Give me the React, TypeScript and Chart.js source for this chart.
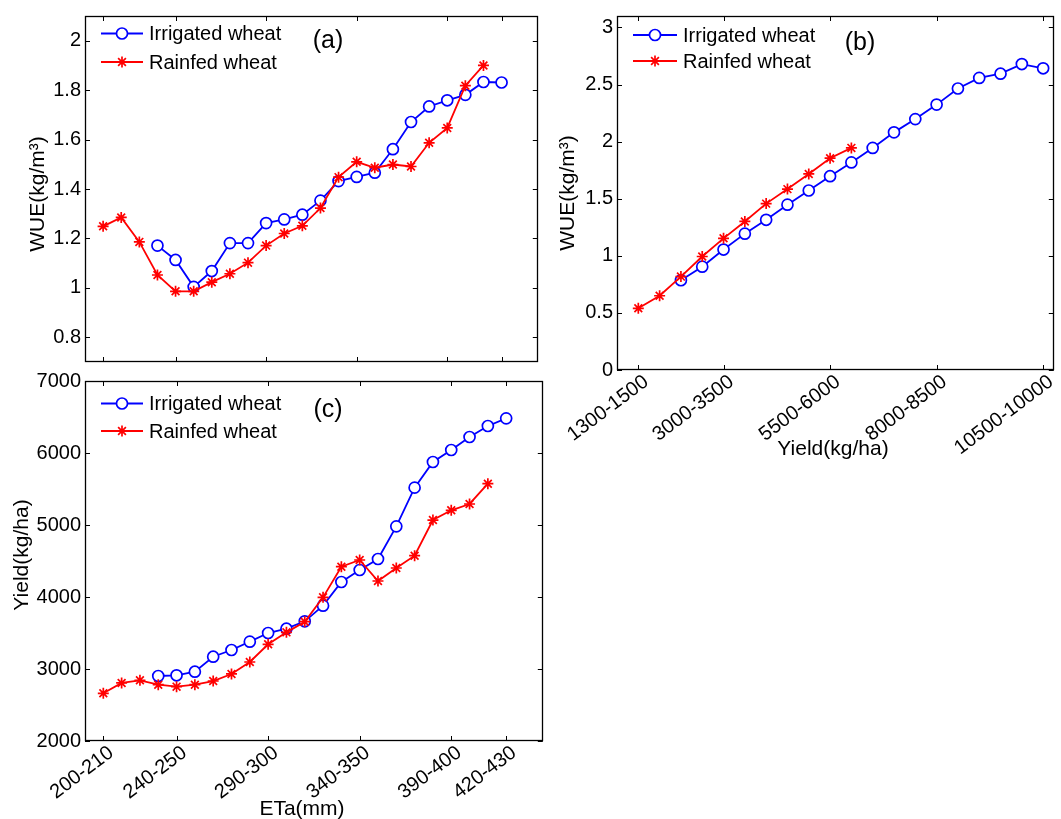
import React, { useEffect, useRef } from "react";
import { Chart, registerables } from "chart.js";
Chart.register(...registerables);

const FONT = '"Liberation Sans", Arial, Helvetica, sans-serif';

// ETa classes (mm)
const etaClasses = ["200-210", "210-220", "220-230", "230-240", "240-250", "250-260", "260-270", "270-280", "280-290", "290-300", "300-310", "310-320", "320-330", "330-340", "340-350", "350-360", "360-370", "370-380", "380-390", "390-400", "400-410", "410-420", "420-430"];
const etaTickIndex = [0, 4, 9, 14, 19, 22];

// Yield classes (kg/ha)
const yieldClasses = ["1300-1500", "1500-2000", "2000-2500", "2500-3000", "3000-3500", "3500-4000", "4000-4500", "4500-5000", "5000-5500", "5500-6000", "6000-6500", "6500-7000", "7000-7500", "7500-8000", "8000-8500", "8500-9000", "9000-9500", "9500-10000", "10000-10500", "10500-10000"];
const yieldTickIndex = [0, 4, 9, 14, 19];

// (a) WUE vs ETa
const irrigatedEtaStart = 3;
const rainfedEtaStart = 0;
const wueEtaIrrigated = [1.171, 1.113, 1.004, 1.068, 1.181, 1.181, 1.262, 1.277, 1.296, 1.353, 1.432, 1.449, 1.466, 1.561, 1.671, 1.734, 1.759, 1.781, 1.833, 1.831];
const wueEtaRainfed = [1.249, 1.285, 1.186, 1.052, 0.986, 0.986, 1.023, 1.057, 1.102, 1.171, 1.22, 1.251, 1.323, 1.448, 1.51, 1.486, 1.499, 1.491, 1.587, 1.647, 1.818, 1.9];

// (b) WUE vs Yield
const irrigatedYieldStart = 2;
const rainfedYieldStart = 0;
const wueYieldIrrigated = [0.786, 0.905, 1.055, 1.194, 1.315, 1.448, 1.572, 1.697, 1.818, 1.945, 2.081, 2.197, 2.324, 2.465, 2.558, 2.595, 2.679, 2.642];
const wueYieldRainfed = [0.54, 0.65, 0.818, 0.994, 1.153, 1.301, 1.457, 1.584, 1.717, 1.855, 1.945];

// (c) Yield vs ETa
const yieldEtaIrrigated = [2903, 2912, 2963, 3171, 3264, 3380, 3500, 3560, 3662, 3880, 4208, 4375, 4528, 4981, 5519, 5875, 6042, 6222, 6375, 6481];
const yieldEtaRainfed = [2662, 2806, 2843, 2782, 2755, 2782, 2833, 2931, 3097, 3343, 3509, 3657, 3995, 4421, 4514, 4222, 4403, 4574, 5069, 5204, 5292, 5574];

const wueTicksA = [0.8, 1, 1.2, 1.4, 1.6, 1.8, 2];
const wueTicksB = [0, 0.5, 1, 1.5, 2, 2.5, 3];
const yieldTicksC = [2000, 3000, 4000, 5000, 6000, 7000];

const BLUE = "#0000ff";
const RED = "#ff0000";

type Series = { label: string; color: string; marker: "circle" | "star"; start: number; values: number[]; order: number };
type Spec = {
  box: { left: number; top: number; width: number; height: number };
  padding: { left: number; top: number; right: number; bottom: number };
  yWidth: number;
  xHeight: number;
  xMin: number;
  xMax: number;
  xTickIndex: number[];
  xLabels: string[];
  showXLabels: boolean;
  yMin: number;
  yMax: number;
  yTicks: number[];
  series: Series[];
  tag: { text: string; x: number; y: number };
  legend: { x0: number; x1: number; textX: number; rows: number[] };
  yTitle: { text: string; x: number; y: number };
  xTitle?: { text: string; x: number; y: number };
};

const MARK_R = 5.5;
const LINE_W = 1.8;

function drawStar(ctx: CanvasRenderingContext2D, x: number, y: number, r: number) {
  const d = r * Math.SQRT1_2;
  ctx.beginPath();
  ctx.moveTo(x - r, y); ctx.lineTo(x + r, y);
  ctx.moveTo(x, y - r); ctx.lineTo(x, y + r);
  ctx.moveTo(x - d, y - d); ctx.lineTo(x + d, y + d);
  ctx.moveTo(x - d, y + d); ctx.lineTo(x + d, y - d);
  ctx.stroke();
}

function framePlugin(spec: Spec) {
  return {
    id: "matlabFrame",
    afterDraw(chart: any) {
      const ctx: CanvasRenderingContext2D = chart.ctx;
      const { left, right, top, bottom } = chart.chartArea;
      const xs = chart.scales.x;
      const ys = chart.scales.y;
      const TL = 5;
      ctx.save();
      ctx.strokeStyle = "#000";
      ctx.lineWidth = 1.3;
      ctx.strokeRect(Math.round(left) + 0.5, Math.round(top) + 0.5, Math.round(right - left) - 1, Math.round(bottom - top) - 1);
      ctx.lineWidth = 1;
      ctx.beginPath();
      spec.xTickIndex.forEach((v) => {
        const px = Math.round(xs.getPixelForValue(v)) + 0.5;
        ctx.moveTo(px, bottom); ctx.lineTo(px, bottom - TL);
        ctx.moveTo(px, top); ctx.lineTo(px, top + TL);
      });
      spec.yTicks.forEach((v) => {
        const py = Math.round(ys.getPixelForValue(v)) + 0.5;
        ctx.moveTo(left, py); ctx.lineTo(left + TL, py);
        ctx.moveTo(right, py); ctx.lineTo(right - TL, py);
      });
      ctx.stroke();

      // legend
      ctx.font = `20px ${FONT}`;
      ctx.textBaseline = "middle";
      ctx.textAlign = "left";
      spec.series.forEach((s, i) => {
        const y = spec.legend.rows[i];
        ctx.strokeStyle = s.color;
        ctx.lineWidth = LINE_W;
        ctx.beginPath();
        ctx.moveTo(spec.legend.x0, y);
        ctx.lineTo(spec.legend.x1, y);
        ctx.stroke();
        const mx = (spec.legend.x0 + spec.legend.x1) / 2;
        ctx.lineWidth = 1.7;
        if (s.marker === "circle") {
          ctx.fillStyle = "#fff";
          ctx.beginPath();
          ctx.arc(mx, y, MARK_R, 0, Math.PI * 2);
          ctx.fill();
          ctx.stroke();
        } else {
          drawStar(ctx, mx, y, MARK_R);
        }
        ctx.fillStyle = "#000";
        ctx.fillText(s.label, spec.legend.textX, y + 1);
      });

      // panel tag
      ctx.font = `25px ${FONT}`;
      ctx.textAlign = "center";
      ctx.fillStyle = "#000";
      ctx.fillText(spec.tag.text, spec.tag.x, spec.tag.y);

      // axis titles
      ctx.font = `21px ${FONT}`;
      ctx.save();
      ctx.translate(spec.yTitle.x, spec.yTitle.y);
      ctx.rotate(-Math.PI / 2);
      ctx.fillText(spec.yTitle.text, 0, 0);
      ctx.restore();
      if (spec.xTitle) {
        ctx.fillText(spec.xTitle.text, spec.xTitle.x, spec.xTitle.y);
      }
      ctx.restore();
    },
  };
}

function Panel({ spec }: { spec: Spec }) {
  const ref = useRef<HTMLCanvasElement | null>(null);
  useEffect(() => {
    if (!ref.current) return;
    const datasets = spec.series.map((s) => ({
      label: s.label,
      data: s.values.map((v, i) => ({ x: s.start + i, y: v })),
      borderColor: s.color,
      backgroundColor: s.color,
      borderWidth: LINE_W,
      pointStyle: s.marker,
      pointRadius: MARK_R,
      pointBorderWidth: 1.7,
      pointBorderColor: s.color,
      pointBackgroundColor: s.marker === "circle" ? "#ffffff" : s.color,
      tension: 0,
      order: s.order,
      clip: false as any,
    }));
    const tickFont = { family: FONT, size: 20 };
    const chart = new Chart(ref.current, {
      type: "line",
      data: { datasets },
      options: {
        animation: false,
        responsive: false,
        maintainAspectRatio: false,
        devicePixelRatio: 1,
        layout: { padding: spec.padding },
        plugins: { legend: { display: false }, tooltip: { enabled: false } },
        scales: {
          x: {
            type: "linear",
            min: spec.xMin,
            max: spec.xMax,
            afterBuildTicks: (s: any) => {
              s.ticks = spec.xTickIndex.map((v) => ({ value: v }));
            },
            afterFit: (s: any) => {
              s.height = spec.xHeight;
            },
            grid: { display: false, drawTicks: false, tickLength: 0 },
            border: { display: false },
            ticks: {
              display: spec.showXLabels,
              autoSkip: false,
              maxRotation: 37,
              minRotation: 37,
              padding: 0,
              labelOffset: 8,
              color: "#000",
              font: tickFont,
              callback: (v: any) => spec.xLabels[v as number] ?? "",
            },
          },
          y: {
            type: "linear",
            min: spec.yMin,
            max: spec.yMax,
            afterBuildTicks: (s: any) => {
              s.ticks = spec.yTicks.map((v) => ({ value: v }));
            },
            afterFit: (s: any) => {
              s.width = spec.yWidth;
            },
            grid: { display: false, drawTicks: false, tickLength: 0 },
            border: { display: false },
            ticks: {
              padding: 4,
              color: "#000",
              font: tickFont,
              callback: (v: any) => String(v),
            },
          },
        },
      },
      plugins: [framePlugin(spec)],
    } as any);
    return () => chart.destroy();
  }, [spec]);
  return (
    <canvas
      ref={ref}
      width={spec.box.width}
      height={spec.box.height}
      style={{ position: "absolute", left: spec.box.left, top: spec.box.top, width: spec.box.width, height: spec.box.height }}
    />
  );
}

const irrigated = "Irrigated wheat";
const rainfed = "Rainfed wheat";

const specA: Spec = {
  box: { left: 0, top: 0, width: 545, height: 378 },
  padding: { left: 0, top: 12, right: 4, bottom: 9 },
  yWidth: 85,
  xHeight: 0,
  xMin: -1,
  xMax: 24,
  xTickIndex: etaTickIndex,
  xLabels: etaClasses,
  showXLabels: false,
  yMin: 0.7,
  yMax: 2.1,
  yTicks: wueTicksA,
  series: [
    { label: irrigated, color: BLUE, marker: "circle", start: irrigatedEtaStart, values: wueEtaIrrigated, order: 1 },
    { label: rainfed, color: RED, marker: "star", start: rainfedEtaStart, values: wueEtaRainfed, order: 0 },
  ],
  tag: { text: "(a)", x: 328, y: 41 },
  legend: { x0: 101, x1: 143, textX: 149, rows: [33.5, 62] },
  yTitle: { text: "WUE(kg/m³)", x: 38, y: 194 },
};

const specB: Spec = {
  box: { left: 545, top: 0, width: 516, height: 460 },
  padding: { left: 0, top: 12, right: 1, bottom: 0 },
  yWidth: 72,
  xHeight: 90,
  xMin: -1,
  xMax: 19.5,
  xTickIndex: yieldTickIndex,
  xLabels: yieldClasses,
  showXLabels: true,
  yMin: 0,
  yMax: 3.1,
  yTicks: wueTicksB,
  series: [
    { label: irrigated, color: BLUE, marker: "circle", start: irrigatedYieldStart, values: wueYieldIrrigated, order: 1 },
    { label: rainfed, color: RED, marker: "star", start: rainfedYieldStart, values: wueYieldRainfed, order: 0 },
  ],
  tag: { text: "(b)", x: 315, y: 43 },
  legend: { x0: 88, x1: 132, textX: 138, rows: [35, 61] },
  yTitle: { text: "WUE(kg/m³)", x: 23, y: 193 },
  xTitle: { text: "Yield(kg/ha)", x: 288, y: 449 },
};

const specC: Spec = {
  box: { left: 0, top: 360, width: 550, height: 459 },
  padding: { left: 0, top: 21, right: 4, bottom: 0 },
  yWidth: 85,
  xHeight: 78,
  xMin: -1,
  xMax: 24,
  xTickIndex: etaTickIndex,
  xLabels: etaClasses,
  showXLabels: true,
  yMin: 2000,
  yMax: 7000,
  yTicks: yieldTicksC,
  series: [
    { label: irrigated, color: BLUE, marker: "circle", start: irrigatedEtaStart, values: yieldEtaIrrigated, order: 1 },
    { label: rainfed, color: RED, marker: "star", start: rainfedEtaStart, values: yieldEtaRainfed, order: 0 },
  ],
  tag: { text: "(c)", x: 328, y: 50 },
  legend: { x0: 101, x1: 143, textX: 149, rows: [43.5, 71] },
  yTitle: { text: "Yield(kg/ha)", x: 22, y: 195 },
  xTitle: { text: "ETa(mm)", x: 302, y: 449 },
};

export default function App() {
  return (
    <div style={{ position: "absolute", left: 0, top: 0, width: 1061, height: 819, background: "#fff", overflow: "hidden" }}>
      <Panel spec={specA} />
      <Panel spec={specC} />
      <Panel spec={specB} />
    </div>
  );
}
